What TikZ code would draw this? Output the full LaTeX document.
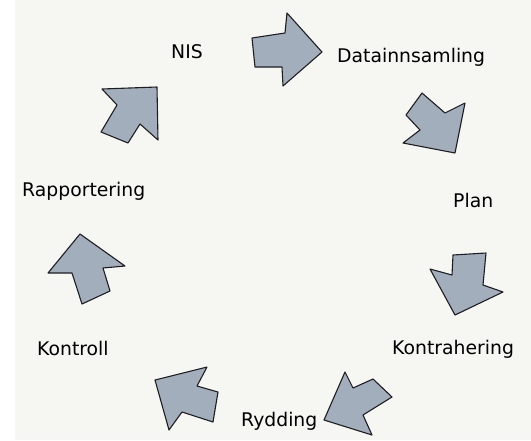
\documentclass[tikz,border=0pt]{standalone}
\usepackage{fontspec}
\setmainfont{DejaVu Sans}
\definecolor{arrowfill}{RGB}{163,174,189}
\definecolor{arrowline}{RGB}{30,30,34}
\definecolor{bgcol}{RGB}{246,246,242}
\tikzset{
  blockarrow/.style={fill=arrowfill, draw=arrowline, line width=1.1pt, line join=round},
  lbl/.style={anchor=base west, inner sep=0pt, font=\fontsize{18.8}{22}\selectfont, text=black}
}
\begin{document}
\begin{tikzpicture}[x=1pt,y=-1pt]
\useasboundingbox (0,0) rectangle (531,440);
\fill[white] (0,0) rectangle (531,440);
\fill[bgcol] (15,0) rectangle (531,440);
% block arrows
\draw[blockarrow] (252,38) -- (285,33) -- (287,13) -- (322,52) -- (283,86) -- (282,67) -- (255,67) -- cycle;
\draw[blockarrow] (422,93) -- (445,113) -- (465,103) -- (455,153) -- (403,143) -- (420,130) -- (406,115) -- cycle;
\draw[blockarrow] (453,255) -- (486,253) -- (483,285) -- (503,292) -- (455,315) -- (430,269) -- (452,275) -- cycle;
\draw[blockarrow] (345,372) -- (353,388) -- (373,379) -- (392,397) -- (363,415) -- (372,435) -- (324,420) -- cycle;
\draw[blockarrow] (155,380) -- (207,367) -- (197,386) -- (218,392) -- (213,422) -- (182,412) -- (169,430) -- cycle;
\draw[blockarrow] (80,234) -- (125,266) -- (103,268) -- (110,291) -- (82,304) -- (72,273) -- (48,273) -- cycle;
\draw[blockarrow] (157,87) -- (102,89) -- (117,105) -- (101,132) -- (128,143) -- (140,124) -- (158,140) -- cycle;
% labels
\node[lbl] (nis) at (171,58) {NIS};
\node[lbl] (data) at (337,62) {Datainnsamling};
\node[lbl] (plan) at (453,207) {Plan};
\node[lbl] (kontrahering) at (392,354) {Kontrahering};
\node[lbl] (rydding) at (241,426) {Rydding};
\node[lbl] (kontroll) at (37,355) {Kontroll};
\node[lbl] (rapportering) at (22,196) {Rapportering};
\end{tikzpicture}
\end{document}
